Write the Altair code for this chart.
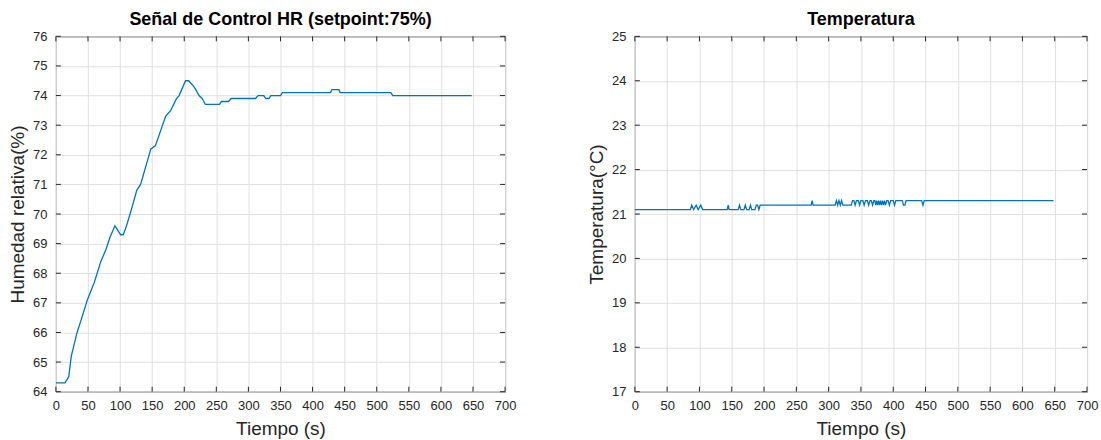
import altair as alt
import pandas as pd

# ---------------- data ----------------
hr_t = [0, 14, 17, 20, 24, 33, 39, 49, 60, 70, 78, 84, 92, 101, 105, 110, 117, 126, 132, 140,
        148, 155, 163, 171, 179, 188, 192, 202, 207, 215, 218, 223, 228, 233, 255, 258, 269,
        273, 311, 315, 324, 327, 332, 335, 350, 353, 428, 430, 441, 443, 522, 525, 648]
hr_v = [64.3, 64.3, 64.4, 64.5, 65.2, 66.0, 66.4, 67.1, 67.7, 68.4, 68.8, 69.2, 69.6, 69.3, 69.3,
        69.6, 70.1, 70.8, 71.0, 71.6, 72.2, 72.3, 72.8, 73.3, 73.5, 73.9, 74.0, 74.5, 74.5, 74.3,
        74.2, 74.0, 73.9, 73.7, 73.7, 73.8, 73.8, 73.9, 73.9, 74.0, 74.0, 73.9, 73.9, 74.0, 74.0,
        74.1, 74.1, 74.2, 74.2, 74.1, 74.1, 74.0, 74.0]

temp_t = [0, 86, 88, 91, 95, 98, 102, 105, 143, 144.5, 146, 160, 162, 164, 169, 171, 173, 177,
          179, 181, 186, 188, 190, 192, 194, 273, 274.5, 276, 310, 312, 314, 316, 318, 320, 322,
          335, 337, 339, 341, 343, 346, 348, 350, 353, 355, 357, 360, 362, 364, 366, 368, 370,
          371.5, 373, 374.5, 376, 377.5, 379, 380.5, 382, 383.5, 385, 386.5, 388, 390, 392, 394,
          396, 400, 402, 404, 414, 416, 418, 420, 444, 446, 448, 648]
temp_v = [21.1, 21.1, 21.2, 21.1, 21.2, 21.1, 21.2, 21.1, 21.1, 21.2, 21.1, 21.1, 21.2, 21.1,
          21.1, 21.2, 21.1, 21.1, 21.2, 21.1, 21.1, 21.2, 21.2, 21.1, 21.2, 21.2, 21.3, 21.2,
          21.2, 21.3, 21.2, 21.3, 21.2, 21.3, 21.2, 21.2, 21.3, 21.3, 21.2, 21.3, 21.3, 21.2,
          21.3, 21.3, 21.2, 21.3, 21.3, 21.2, 21.3, 21.3, 21.2, 21.3, 21.3, 21.2, 21.3, 21.2,
          21.3, 21.2, 21.3, 21.2, 21.3, 21.2, 21.3, 21.2, 21.3, 21.3, 21.2, 21.3, 21.3, 21.2,
          21.3, 21.3, 21.2, 21.2, 21.3, 21.3, 21.2, 21.3, 21.3]

x_ticks = list(range(0, 701, 50))
hr_ticks = list(range(64, 77))
temp_ticks = list(range(17, 26))

# ---------------- style ----------------
W_L, W_R, H = 450, 453, 356
FONT = "Liberation Sans"
TXT = "#262626"
LINE = "#0072BD"
GRID = "#e0e0e0"
TICK = 5


def panel(t, v, y_dom, y_ticks, y_title, title, W):
    df = pd.DataFrame({"t": t, "v": v})
    xs = alt.Scale(domain=[0, 700], nice=False, zero=False)
    ys = alt.Scale(domain=y_dom, nice=False, zero=False)
    xaxis = alt.Axis(values=x_ticks, title="Tiempo (s)", grid=True, gridColor=GRID,
                     ticks=False, domain=False, labelPadding=8, labelFontSize=13,
                     labelColor=TXT, titleFontSize=19, titleFontWeight="normal",
                     titleColor=TXT, titlePadding=7, labelFont=FONT, titleFont=FONT,
                     labelOverlap=False, labelFlush=False)
    yaxis = alt.Axis(values=y_ticks, title=y_title, grid=True, gridColor=GRID,
                     ticks=False, domain=False, labelPadding=9, labelFontSize=13,
                     labelColor=TXT, titleFontSize=19, titleFontWeight="normal",
                     titleColor=TXT, titlePadding=5, labelFont=FONT, titleFont=FONT,
                     labelOverlap=False, labelFlush=False)
    line = alt.Chart(df).mark_line(color=LINE, strokeWidth=1.3).encode(
        x=alt.X("t:Q", scale=xs, axis=xaxis),
        y=alt.Y("v:Q", scale=ys, axis=yaxis),
    )
    xt = pd.DataFrame({"t": x_ticks})
    yt = pd.DataFrame({"v": y_ticks})
    bot = alt.Chart(xt).mark_rule(color=TXT, strokeWidth=1).encode(
        x=alt.X("t:Q", scale=xs, axis=xaxis), y=alt.value(H), y2=alt.value(H - TICK))
    top = alt.Chart(xt).mark_rule(color=TXT, strokeWidth=1).encode(
        x=alt.X("t:Q", scale=xs, axis=xaxis), y=alt.value(0), y2=alt.value(TICK))
    left = alt.Chart(yt).mark_rule(color=TXT, strokeWidth=1).encode(
        y=alt.Y("v:Q", scale=ys, axis=yaxis), x=alt.value(0), x2=alt.value(TICK))
    right = alt.Chart(yt).mark_rule(color=TXT, strokeWidth=1).encode(
        y=alt.Y("v:Q", scale=ys, axis=yaxis), x=alt.value(W), x2=alt.value(W - TICK))
    return alt.layer(line, bot, top, left, right).properties(
        width=W, height=H,
        title=alt.TitleParams(title, fontSize=18, fontWeight="bold", font=FONT,
                              color="#000000", offset=1, anchor="middle"),
    )


left_chart = panel(hr_t, hr_v, [64, 76], hr_ticks, "Humedad relativa(%)",
                   "Señal de Control HR (setpoint:75%)", W_L)
right_chart = panel(temp_t, temp_v, [17, 25], temp_ticks, "Temperatura(°C)",
                    "Temperatura", W_R)

chart = alt.hconcat(left_chart, right_chart, spacing=130, bounds="flush").properties(
    padding={"left": 8, "top": 10, "right": 2, "bottom": 1},
    background="white",
).configure_view(stroke=TXT, strokeWidth=1)

chart.save("out.html", embed_options={"renderer": "svg", "actions": False})
